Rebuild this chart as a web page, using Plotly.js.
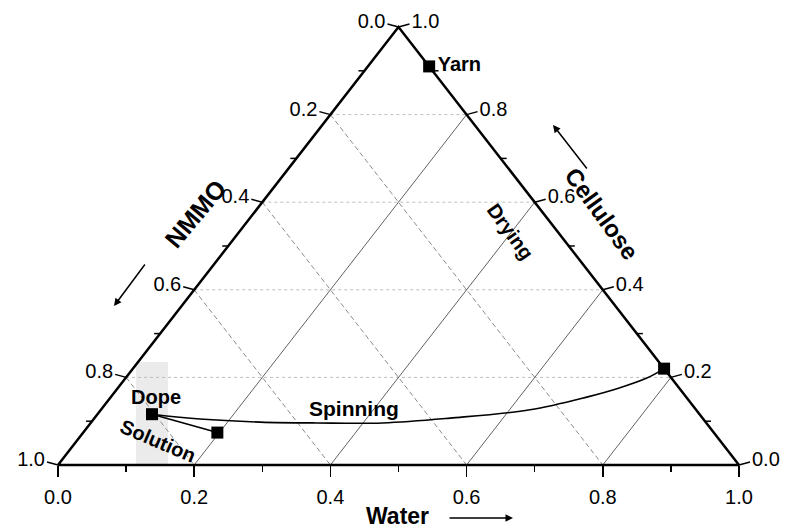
<!DOCTYPE html>
<html>
<head>
<meta charset="utf-8">
<script src="https://cdn.plot.ly/plotly-3.0.1.min.js"></script>
<style>html,body{margin:0;padding:0;background:#fff;}#chart{width:786px;height:531px;}</style>
</head>
<body>
<div id="chart"></div>
<script>
// ---- data (mass fractions) ----
const majorTicks = [0, 0.2, 0.4, 0.6, 0.8, 1.0];
const minorTicks = [0.1, 0.3, 0.5, 0.7, 0.9];
const tickLabels = ['0.0', '0.2', '0.4', '0.6', '0.8', '1.0'];
const gridValues = [0.2, 0.4, 0.6, 0.8];

const pointNames     = ['Dope', 'Solution', 'Yarn', 'Fibre'];
const pointWater     = [0.080, 0.197, 0.090, 0.780];
const pointCellulose = [0.116, 0.074, 0.910, 0.220];
const pointNMMO      = [0.804, 0.729, 0.000, 0.000];

const spinWater     = [0.080, 0.156, 0.248, 0.332, 0.429, 0.522, 0.630, 0.699, 0.737, 0.766, 0.780];
const spinCellulose = [0.116, 0.105, 0.098, 0.096, 0.096, 0.107, 0.126, 0.155, 0.176, 0.199, 0.220];
const spinNMMO      = [0.804, 0.739, 0.654, 0.572, 0.475, 0.371, 0.244, 0.146, 0.088, 0.035, 0.000];

// ---- ternary -> cartesian (Water along bottom, Cellulose up) ----
function tx(w, c, n) { const s = w + c + n; return (w + c / 2) / s; }
function ty(w, c, n) { const s = w + c + n; return c / s; }

// page geometry: triangle base from px 58 to 739, base at py 465, apex at py 27
const W = 786, H = 531, L0 = 58, PXW = 681, B0 = 465, PXH = 438;
const XR = [-L0 / PXW, (W - L0) / PXW];
const YR = [-(H - B0) / PXH, B0 / PXH];
const TICK = 11, MINOR = 6;
const FONT = 'Liberation Sans, Arial, Helvetica, sans-serif';

const traces = [];
function lineTrace(segs, style) {
  const x = [], y = [];
  segs.forEach(s => { x.push(s[0][0], s[1][0], null); y.push(s[0][1], s[1][1], null); });
  return {x, y, mode: 'lines', line: style, hoverinfo: 'skip', showlegend: false};
}
// constant cellulose (horizontal)
traces.push(lineTrace(gridValues.map(v => [[tx(0, v, 1 - v), ty(0, v, 1 - v)], [tx(1 - v, v, 0), ty(1 - v, v, 0)]]),
  {color: '#bdbdbd', width: 1, dash: '3px,3px'}));
// constant NMMO
traces.push(lineTrace(gridValues.map(v => [[tx(0, 1 - v, v), ty(0, 1 - v, v)], [tx(1 - v, 0, v), ty(1 - v, 0, v)]]),
  {color: '#8c8c8c', width: 1, dash: '5px,3px'}));
// constant water
traces.push(lineTrace(gridValues.map(v => [[tx(v, 0, 1 - v), ty(v, 0, 1 - v)], [tx(v, 1 - v, 0), ty(v, 1 - v, 0)]]),
  {color: '#505050', width: 0.9}));

// triangle frame
traces.push({x: [tx(0,0,1), tx(1,0,0), tx(0,1,0), tx(0,0,1)], y: [ty(0,0,1), ty(1,0,0), ty(0,1,0), ty(0,0,1)],
  mode: 'lines', line: {color: '#000', width: 2.5}, hoverinfo: 'skip', showlegend: false});

// left edge (NMMO) and right edge (Cellulose) ticks
const leftMaj = majorTicks.map(v => [[tx(0, 1 - v, v), ty(0, 1 - v, v)], [tx(0, 1 - v, v) - TICK / PXW, ty(0, 1 - v, v) + 3 / PXH]]);
const leftMin = minorTicks.map(v => [[tx(0, 1 - v, v), ty(0, 1 - v, v)], [tx(0, 1 - v, v) - MINOR / PXW, ty(0, 1 - v, v)]]);
const rightMaj = majorTicks.map(v => [[tx(1 - v, v, 0), ty(1 - v, v, 0)], [tx(1 - v, v, 0) + TICK / PXW, ty(1 - v, v, 0) + 3 / PXH]]);
const rightMin = minorTicks.map(v => [[tx(1 - v, v, 0), ty(1 - v, v, 0)], [tx(1 - v, v, 0) + MINOR / PXW, ty(1 - v, v, 0)]]);
traces.push(lineTrace(leftMaj.concat(leftMin, rightMaj, rightMin), {color: '#000', width: 1.5}));

// edge tick labels
traces.push({x: majorTicks.map(v => tx(0, 1 - v, v) - (TICK + 2) / PXW), y: majorTicks.map(v => ty(0, 1 - v, v) + 4 / PXH),
  text: tickLabels, mode: 'text', textposition: 'middle left', textfont: {family: FONT, size: 20, color: '#000'},
  hoverinfo: 'skip', showlegend: false});
traces.push({x: majorTicks.map(v => tx(1 - v, v, 0) + (TICK + 2) / PXW), y: majorTicks.map(v => ty(1 - v, v, 0) + 4 / PXH),
  text: tickLabels, mode: 'text', textposition: 'middle right', textfont: {family: FONT, size: 20, color: '#000'},
  hoverinfo: 'skip', showlegend: false});

// spinning curve
traces.push({x: spinWater.map((w, i) => tx(w, spinCellulose[i], spinNMMO[i])),
  y: spinWater.map((w, i) => ty(w, spinCellulose[i], spinNMMO[i])),
  mode: 'lines', line: {color: '#000', width: 1.6, shape: 'spline', smoothing: 1}, hoverinfo: 'skip', showlegend: false});
// dope -> solution
traces.push({x: [0, 1].map(i => tx(pointWater[i], pointCellulose[i], pointNMMO[i])),
  y: [0, 1].map(i => ty(pointWater[i], pointCellulose[i], pointNMMO[i])),
  mode: 'lines', line: {color: '#000', width: 1.6}, hoverinfo: 'skip', showlegend: false});

// points
traces.push({x: pointWater.map((w, i) => tx(w, pointCellulose[i], pointNMMO[i])),
  y: pointWater.map((w, i) => ty(w, pointCellulose[i], pointNMMO[i])),
  mode: 'markers+text', text: ['', '', 'Yarn', ''], textposition: 'middle right',
  textfont: {family: FONT, size: 20, color: '#000', weight: 'bold'},
  marker: {symbol: 'square', size: 12, color: '#000'}, hoverinfo: 'skip', showlegend: false});

function px(x) { return (x - L0) / PXW; }
function py(y) { return (B0 - y) / PXH; }
const bold = (s) => ({family: FONT, size: s, color: '#000', weight: 'bold'});

const annotations = [
  {x: px(156), y: py(397), text: '<b>Dope</b>', font: bold(20), showarrow: false},
  {x: px(158), y: py(441), text: '<b>Solution</b>', font: bold(20), showarrow: false, textangle: 23},
  {x: px(354), y: py(408), text: '<b>Spinning</b>', font: bold(21), showarrow: false},
  {x: px(510), y: py(231), text: '<b>Drying</b>', font: bold(20), showarrow: false, textangle: 54},
  {x: px(195), y: py(214), text: '<b>NMMO</b>', font: bold(25), showarrow: false, textangle: -50},
  {x: px(602), y: py(213), text: '<b>Cellulose</b>', font: bold(24), showarrow: false, textangle: 54},
  {x: px(397), y: py(516), text: '<b>Water</b>', font: bold(23), showarrow: false},
  {x: px(513), y: py(518), ax: -65, ay: 0, text: '', showarrow: true, arrowhead: 2, arrowsize: 1, arrowwidth: 1.5, arrowcolor: '#000'},
  {x: px(114), y: py(306), ax: 32, ay: -43, text: '', showarrow: true, arrowhead: 2, arrowsize: 1, arrowwidth: 1.5, arrowcolor: '#000'},
  {x: px(553), y: py(125), ax: 35, ay: 45, text: '', showarrow: true, arrowhead: 2, arrowsize: 1, arrowwidth: 1.5, arrowcolor: '#000'}
];

const layout = {
  width: W, height: H,
  margin: {l: 0, r: 0, t: 0, b: 0, pad: 0},
  paper_bgcolor: '#fff', plot_bgcolor: '#fff',
  showlegend: false,
  font: {family: FONT, color: '#000'},
  xaxis: {range: XR, fixedrange: true, showgrid: false, zeroline: false, showline: false,
    anchor: 'free', position: (H - B0) / H,
    tickvals: majorTicks, ticktext: tickLabels, ticks: 'outside', ticklen: 11, tickwidth: 1.5, tickcolor: '#000',
    tickfont: {family: FONT, size: 20, color: '#000'}, ticklabelstandoff: 3,
    minor: {tickvals: minorTicks, ticks: 'outside', ticklen: 6, tickwidth: 1.5, tickcolor: '#000', showgrid: false}},
  yaxis: {range: YR, visible: false, fixedrange: true},
  shapes: [{type: 'rect', xref: 'x', yref: 'y', x0: px(136), x1: px(168), y0: py(466), y1: py(362),
    fillcolor: '#ebebeb', line: {width: 0}, layer: 'below'}],
  annotations: annotations
};

Plotly.newPlot('chart', traces, layout, {displayModeBar: false, staticPlot: true});
</script>
</body>
</html>
